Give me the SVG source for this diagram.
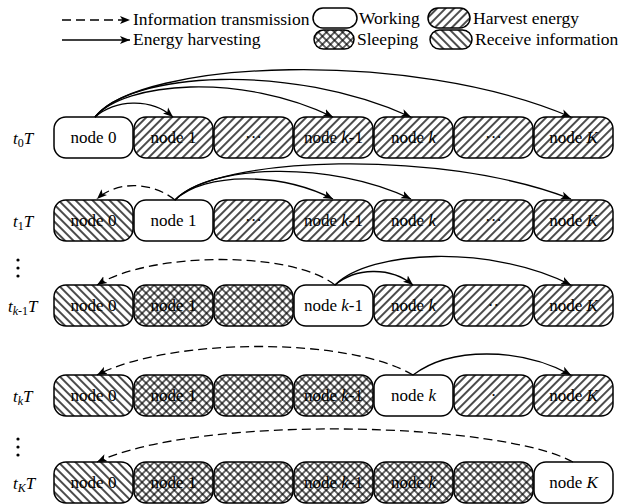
<svg xmlns="http://www.w3.org/2000/svg" width="628" height="504" viewBox="0 0 628 504">
<defs>
<pattern id="harvest" patternUnits="userSpaceOnUse" width="6" height="6" patternTransform="rotate(45)"><line x1="3" y1="-1" x2="3" y2="7" stroke="#000" stroke-width="1.4"/></pattern>
<pattern id="receive" patternUnits="userSpaceOnUse" width="6" height="6" patternTransform="rotate(-45)"><line x1="3" y1="-1" x2="3" y2="7" stroke="#000" stroke-width="1.4"/></pattern>
<pattern id="sleep" patternUnits="userSpaceOnUse" width="5.7" height="5.7" patternTransform="rotate(45)"><line x1="2.85" y1="-1" x2="2.85" y2="7" stroke="#000" stroke-width="1.2"/><line x1="-1" y1="2.85" x2="7" y2="2.85" stroke="#000" stroke-width="1.2"/></pattern>
<marker id="ah" markerUnits="userSpaceOnUse" markerWidth="11" markerHeight="9" refX="10" refY="4.5" orient="auto"><path d="M0,0.5 L10,4.5 L0,8.5 L2.5,4.5 z" fill="#000"/></marker>
<rect id="cell" width="79" height="41" rx="12"/>
</defs>
<style>
text{font-family:"Liberation Serif","Times New Roman",serif;fill:#000}
.lg{font-size:17.5px}
.nl{font-size:17px;text-anchor:middle}
.rl{font-size:17px;font-style:italic}
.it{font-style:italic}
.cell{stroke:#000;stroke-width:1.5}
.w{fill:#fff}
.h{fill:url(#harvest)}
.r{fill:url(#receive)}
.s{fill:url(#sleep)}
.sol{fill:none;stroke:#000;stroke-width:1.3;marker-end:url(#ah)}
.das{fill:none;stroke:#000;stroke-width:1.3;stroke-dasharray:9,5;marker-end:url(#ah)}
</style>
<rect width="628" height="504" fill="#fff"/>
<g id="legend">
<path class="das" d="M62,20 L130,20"/>
<path class="sol" d="M62,40 L130,40"/>
<text class="lg" x="133" y="25">Information transmission</text>
<text class="lg" x="133" y="45">Energy harvesting</text>
<rect class="cell w" x="313" y="8" width="44" height="20" rx="10"/>
<rect class="cell h" x="428" y="8" width="42" height="20" rx="10"/>
<rect class="cell s" x="314" y="30" width="40" height="19" rx="9.5"/>
<rect class="cell r" x="430" y="30" width="42" height="19" rx="9.5"/>
<text class="lg" x="359" y="24">Working</text>
<text class="lg" x="473" y="24">Harvest energy</text>
<text class="lg" x="357" y="45">Sleeping</text>
<text class="lg" x="475" y="45">Receive information</text>
</g>
<g id="row-labels">
<text class="rl" x="13" y="144">t<tspan font-style="normal" font-size="12" dy="3">0</tspan><tspan dy="-3">T</tspan></text>
<text class="rl" x="13" y="227">t<tspan font-style="normal" font-size="12" dy="3">1</tspan><tspan dy="-3">T</tspan></text>
<text class="rl" x="8" y="312">t<tspan font-size="12" dy="3">k</tspan><tspan font-style="normal" font-size="12">-1</tspan><tspan dy="-3">T</tspan></text>
<text class="rl" x="13" y="402">t<tspan font-size="12" dy="3">k</tspan><tspan dy="-3">T</tspan></text>
<text class="rl" x="13" y="489">t<tspan font-size="12" dy="3">K</tspan><tspan dy="-3">T</tspan></text>
<circle cx="18" cy="260" r="1.6"/><circle cx="18" cy="268" r="1.6"/><circle cx="18" cy="276" r="1.6"/>
<circle cx="18" cy="439" r="1.6"/><circle cx="18" cy="447" r="1.6"/><circle cx="18" cy="455" r="1.6"/>
</g>
<g id="nodes">
<g id="row0">
<g id="r0n0"><use href="#cell" class="cell w" x="54" y="117"/><text class="nl" x="93.5" y="143">node 0</text></g>
<g id="r0n1"><use href="#cell" class="cell h" x="134" y="117"/><text class="nl" x="173.5" y="143">node 1</text></g>
<g id="r0n2"><use href="#cell" class="cell h" x="214" y="117"/><text class="nl" x="253.5" y="143">&#183;&#183;&#183;</text></g>
<g id="r0n3"><use href="#cell" class="cell h" x="294" y="117"/><text class="nl" x="333.5" y="143">node <tspan class="it">k</tspan>-1</text></g>
<g id="r0n4"><use href="#cell" class="cell h" x="374" y="117"/><text class="nl" x="413.5" y="143">node <tspan class="it">k</tspan></text></g>
<g id="r0n5"><use href="#cell" class="cell h" x="454" y="117"/><text class="nl" x="493.5" y="143">&#183;&#183;&#183;</text></g>
<g id="r0n6"><use href="#cell" class="cell h" x="534" y="117"/><text class="nl" x="573.5" y="143">node <tspan class="it">K</tspan></text></g>
</g>
<g id="row1">
<g id="r1n0"><use href="#cell" class="cell r" x="54" y="200"/><text class="nl" x="93.5" y="226">node 0</text></g>
<g id="r1n1"><use href="#cell" class="cell w" x="134" y="200"/><text class="nl" x="173.5" y="226">node 1</text></g>
<g id="r1n2"><use href="#cell" class="cell h" x="214" y="200"/><text class="nl" x="253.5" y="226">&#183;&#183;&#183;</text></g>
<g id="r1n3"><use href="#cell" class="cell h" x="294" y="200"/><text class="nl" x="333.5" y="226">node <tspan class="it">k</tspan>-1</text></g>
<g id="r1n4"><use href="#cell" class="cell h" x="374" y="200"/><text class="nl" x="413.5" y="226">node <tspan class="it">k</tspan></text></g>
<g id="r1n5"><use href="#cell" class="cell h" x="454" y="200"/><text class="nl" x="493.5" y="226">&#183;&#183;&#183;</text></g>
<g id="r1n6"><use href="#cell" class="cell h" x="534" y="200"/><text class="nl" x="573.5" y="226">node <tspan class="it">K</tspan></text></g>
</g>
<g id="row2">
<g id="r2n0"><use href="#cell" class="cell r" x="54" y="285"/><text class="nl" x="93.5" y="311">node 0</text></g>
<g id="r2n1"><use href="#cell" class="cell s" x="134" y="285"/><text class="nl" x="173.5" y="311">node 1</text></g>
<g id="r2n2"><use href="#cell" class="cell s" x="214" y="285"/></g>
<g id="r2n3"><use href="#cell" class="cell w" x="294" y="285"/><text class="nl" x="333.5" y="311">node <tspan class="it">k</tspan>-1</text></g>
<g id="r2n4"><use href="#cell" class="cell h" x="374" y="285"/><text class="nl" x="413.5" y="311">node <tspan class="it">k</tspan></text></g>
<g id="r2n5"><use href="#cell" class="cell h" x="454" y="285"/><text class="nl" x="493.5" y="311">&#183;&#183;</text></g>
<g id="r2n6"><use href="#cell" class="cell h" x="534" y="285"/><text class="nl" x="573.5" y="311">node <tspan class="it">K</tspan></text></g>
</g>
<g id="row3">
<g id="r3n0"><use href="#cell" class="cell r" x="54" y="375"/><text class="nl" x="93.5" y="401">node 0</text></g>
<g id="r3n1"><use href="#cell" class="cell s" x="134" y="375"/><text class="nl" x="173.5" y="401">node 1</text></g>
<g id="r3n2"><use href="#cell" class="cell s" x="214" y="375"/></g>
<g id="r3n3"><use href="#cell" class="cell s" x="294" y="375"/><text class="nl" x="333.5" y="401">node <tspan class="it">k</tspan>-1</text></g>
<g id="r3n4"><use href="#cell" class="cell w" x="374" y="375"/><text class="nl" x="413.5" y="401">node <tspan class="it">k</tspan></text></g>
<g id="r3n5"><use href="#cell" class="cell h" x="454" y="375"/><text class="nl" x="493.5" y="401">&#183;</text></g>
<g id="r3n6"><use href="#cell" class="cell h" x="534" y="375"/><text class="nl" x="573.5" y="401">node <tspan class="it">K</tspan></text></g>
</g>
<g id="row4">
<g id="r4n0"><use href="#cell" class="cell r" x="54" y="462"/><text class="nl" x="93.5" y="488">node 0</text></g>
<g id="r4n1"><use href="#cell" class="cell s" x="134" y="462"/><text class="nl" x="173.5" y="488">node 1</text></g>
<g id="r4n2"><use href="#cell" class="cell s" x="214" y="462"/></g>
<g id="r4n3"><use href="#cell" class="cell s" x="294" y="462"/><text class="nl" x="333.5" y="488">node <tspan class="it">k</tspan>-1</text></g>
<g id="r4n4"><use href="#cell" class="cell s" x="374" y="462"/><text class="nl" x="413.5" y="488">node <tspan class="it">k</tspan></text></g>
<g id="r4n5"><use href="#cell" class="cell s" x="454" y="462"/></g>
<g id="r4n6"><use href="#cell" class="cell w" x="534" y="462"/><text class="nl" x="573.5" y="488">node <tspan class="it">K</tspan></text></g>
</g>
</g>
<g id="connectors">
<path class="sol" d="M95,117 C115,100 150,97 173,117"/>
<path class="sol" d="M95,117 C125,82 240,72 333,117"/>
<path class="sol" d="M95,117 C130,72 290,62 411,117"/>
<path class="sol" d="M95,117 C140,60 410,48 571,117"/>
<path class="das" d="M175,200 C150,180 115,182 97,199"/>
<path class="sol" d="M175,200 C205,172 280,172 333,199"/>
<path class="sol" d="M175,200 C210,164 330,160 411,199"/>
<path class="sol" d="M175,200 C215,156 440,148 571,199"/>
<path class="das" d="M335,285 C290,250 150,252 97,285"/>
<path class="sol" d="M335,285 C355,268 390,266 413,285"/>
<path class="sol" d="M335,285 C370,250 490,244 571,285"/>
<path class="das" d="M413,375 C350,337 170,337 97,375"/>
<path class="sol" d="M413,375 C450,347 520,347 571,375"/>
<path class="das" d="M573,462 C500,422 200,414 97,462"/>
</g>
</svg>
